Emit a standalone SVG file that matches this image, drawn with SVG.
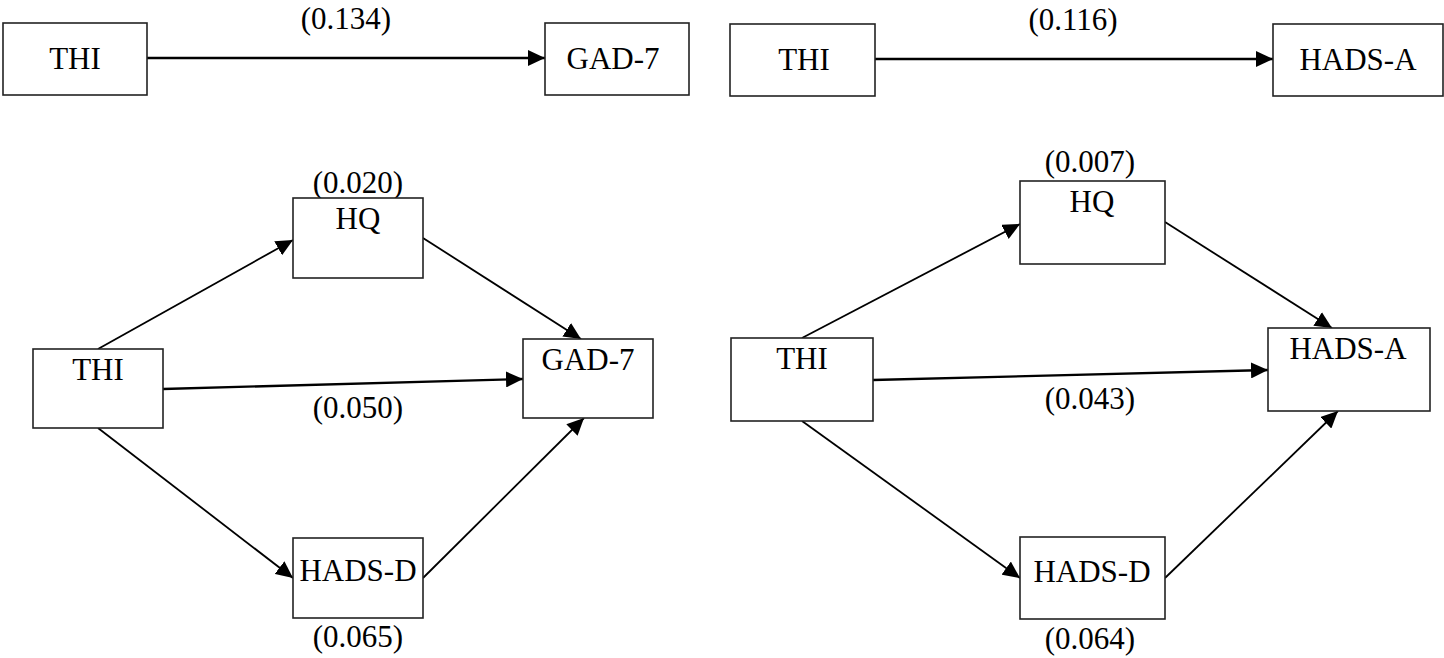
<svg xmlns="http://www.w3.org/2000/svg" width="1444" height="658" viewBox="0 0 1444 658">
<defs>
<style>
.box{fill:#fff;stroke:#222;stroke-width:1.6}
.t{font-family:"Liberation Serif","Times New Roman",serif;font-size:31px;fill:#000;text-anchor:middle}
.c{stroke:#000;stroke-width:1.8;fill:none;marker-end:url(#ah)}
.c2{stroke:#000;stroke-width:2.4;fill:none;marker-end:url(#ah)}
</style>
<marker id="ah" markerUnits="userSpaceOnUse" markerWidth="18" markerHeight="16" refX="17" refY="8" orient="auto">
<path d="M0,0 L17,8 L0,16 z" fill="#000"/>
</marker>
</defs>
<rect width="1444" height="658" fill="#fff"/>
<g id="connectors">
<line class="c2" x1="147" y1="58" x2="545" y2="58"/>
<line class="c2" x1="875" y1="59" x2="1273" y2="59"/>
<line class="c" x1="98" y1="349" x2="293" y2="240"/>
<line class="c" x1="423" y1="238" x2="581" y2="339"/>
<line class="c2" x1="163" y1="389" x2="523" y2="379"/>
<line class="c" x1="98" y1="428" x2="293" y2="578"/>
<line class="c" x1="423" y1="578" x2="584" y2="418"/>
<line class="c" x1="802" y1="338" x2="1020" y2="224"/>
<line class="c" x1="1165" y1="222" x2="1332" y2="328"/>
<line class="c2" x1="873" y1="380" x2="1268" y2="370"/>
<line class="c" x1="802" y1="421" x2="1020" y2="578"/>
<line class="c" x1="1165" y1="578" x2="1338" y2="411"/>
</g>
<g id="labels">
<text class="t" x="346" y="29">(0.134)</text>
<text class="t" x="1073" y="30">(0.116)</text>
<text class="t" x="358" y="193">(0.020)</text>
<text class="t" x="358" y="418">(0.050)</text>
<text class="t" x="358" y="647">(0.065)</text>
<text class="t" x="1090" y="172">(0.007)</text>
<text class="t" x="1090" y="409">(0.043)</text>
<text class="t" x="1090" y="649">(0.064)</text>
</g>
<g id="n1-thi"><rect class="box" x="3" y="23" width="144" height="72"/><text class="t" x="75" y="69">THI</text></g>
<g id="n1-gad7"><rect class="box" x="545" y="23" width="144" height="72"/><text class="t" x="613" y="69">GAD-7</text></g>
<g id="n2-thi"><rect class="box" x="730" y="24" width="145" height="72"/><text class="t" x="804" y="70">THI</text></g>
<g id="n2-hadsa"><rect class="box" x="1273" y="24" width="170" height="72"/><text class="t" x="1358" y="70">HADS-A</text></g>
<g id="n3-hq"><rect class="box" x="293" y="198" width="130" height="80"/><text class="t" x="358" y="229">HQ</text></g>
<g id="n3-thi"><rect class="box" x="33" y="349" width="130" height="79"/><text class="t" x="98" y="380">THI</text></g>
<g id="n3-gad7"><rect class="box" x="523" y="339" width="130" height="79"/><text class="t" x="588" y="370">GAD-7</text></g>
<g id="n3-hadsd"><rect class="box" x="293" y="538" width="130" height="80"/><text class="t" x="358" y="581">HADS-D</text></g>
<g id="n4-hq"><rect class="box" x="1020" y="181" width="145" height="83"/><text class="t" x="1092" y="212">HQ</text></g>
<g id="n4-thi"><rect class="box" x="731" y="338" width="142" height="83"/><text class="t" x="802" y="369">THI</text></g>
<g id="n4-hadsa"><rect class="box" x="1268" y="328" width="162" height="83"/><text class="t" x="1348" y="359">HADS-A</text></g>
<g id="n4-hadsd"><rect class="box" x="1020" y="537" width="145" height="82"/><text class="t" x="1092" y="582">HADS-D</text></g>
</svg>
